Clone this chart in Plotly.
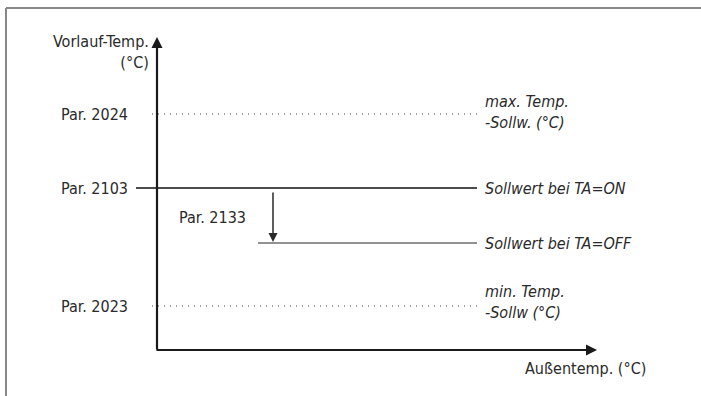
import plotly.graph_objects as go

# Diagram levels (arbitrary units measured from the axis origin)
x_end = 320                # right end of the reference lines
y_axis_top = 313           # y-axis arrow tip
x_axis_end = 440           # x-axis arrow tip

level_names = ["Par. 2024", "Par. 2103", "Par. 2023"]
level_values = [236, 162, 44]
level_styles = ["dot", "solid", "dot"]

off_value = 107            # Sollwert bei TA=OFF
off_start = 101
drop_x = 116               # Par. 2133 arrow

right_labels = ["max. Temp.<br>-Sollw. (°C)", "Sollwert bei TA=ON",
                "Sollwert bei TA=OFF", "min. Temp.<br>-Sollw (°C)"]
right_values = [238, 162, 107, 48]

FONT = "DejaVu Sans Condensed, Liberation Sans Narrow, Arial Narrow, sans-serif"
INK = "#2a2a2a"
FS = 16

fig = go.Figure()

for name, val, st in zip(level_names, level_values, level_styles):
    if st == "dot":
        fig.add_trace(go.Scatter(x=[-5, x_end], y=[val, val], mode="lines",
                                 line=dict(color="#444", width=1, dash="1px,5px"),
                                 hoverinfo="skip"))
    else:
        fig.add_trace(go.Scatter(x=[-21, x_end], y=[val, val], mode="lines",
                                 line=dict(color="#111", width=1.3),
                                 hoverinfo="skip"))
    fig.add_annotation(x=-27, y=val, text=name, showarrow=False,
                       xanchor="right", yanchor="middle",
                       font=dict(family=FONT, size=FS, color=INK))

# TA=OFF line
fig.add_trace(go.Scatter(x=[off_start, x_end], y=[off_value, off_value], mode="lines",
                         line=dict(color="#6e6e6e", width=1.3), hoverinfo="skip"))

# drop arrow Par. 2133
fig.add_annotation(x=drop_x, y=off_value + 1, ax=drop_x, ay=level_values[1] - 3,
                   xref="x", yref="y", axref="x", ayref="y", text="",
                   showarrow=True, arrowhead=2, arrowsize=1.2, arrowwidth=1.5,
                   arrowcolor=INK)
fig.add_annotation(x=55, y=133, text="Par. 2133", showarrow=False,
                   xanchor="center", yanchor="middle",
                   font=dict(family=FONT, size=FS, color=INK))

# axes with arrows
fig.add_annotation(x=0, y=y_axis_top, ax=0, ay=-1, xref="x", yref="y",
                   axref="x", ayref="y", text="", showarrow=True,
                   arrowhead=2, arrowsize=1, arrowwidth=2.2, arrowcolor="#1a1a1a")
fig.add_annotation(x=x_axis_end, y=0, ax=-2, ay=0, xref="x", yref="y",
                   axref="x", ayref="y", text="", showarrow=True,
                   arrowhead=2, arrowsize=1, arrowwidth=2.2, arrowcolor="#1a1a1a")

# right-hand labels
for txt, val in zip(right_labels, right_values):
    fig.add_annotation(x=326, y=val, text="<i>" + txt + "</i>", showarrow=False,
                       xanchor="left", yanchor="middle", align="left",
                       font=dict(family=FONT, size=FS, color=INK))

# axis titles
fig.add_annotation(x=-6, y=298, text="Vorlauf-Temp.<br>(°C)", showarrow=False,
                   xanchor="right", yanchor="middle", align="right",
                   font=dict(family=FONT, size=FS, color=INK))
fig.add_annotation(x=491, y=-18, text="Außentemp. (°C)", showarrow=False,
                   xanchor="right", yanchor="middle",
                   font=dict(family=FONT, size=FS, color=INK))

# outer frame (top and left edges)
fig.add_shape(type="line", xref="paper", yref="paper", x0=6/701, x1=1,
              y0=1 - 8/396, y1=1 - 8/396, line=dict(color="#888", width=2))
fig.add_shape(type="line", xref="paper", yref="paper", x0=6/701, x1=6/701,
              y0=0, y1=1 - 8/396, line=dict(color="#888", width=2))

fig.update_layout(
    width=701, height=396,
    margin=dict(l=0, r=0, t=0, b=0),
    paper_bgcolor="white", plot_bgcolor="white",
    showlegend=False,
    xaxis=dict(range=[-157, 544], visible=False, fixedrange=True),
    yaxis=dict(range=[-46, 350], visible=False, fixedrange=True),
)

fig.write_html("out.html", config={"displayModeBar": False},
               post_script="document.body.style.margin='0px';")
